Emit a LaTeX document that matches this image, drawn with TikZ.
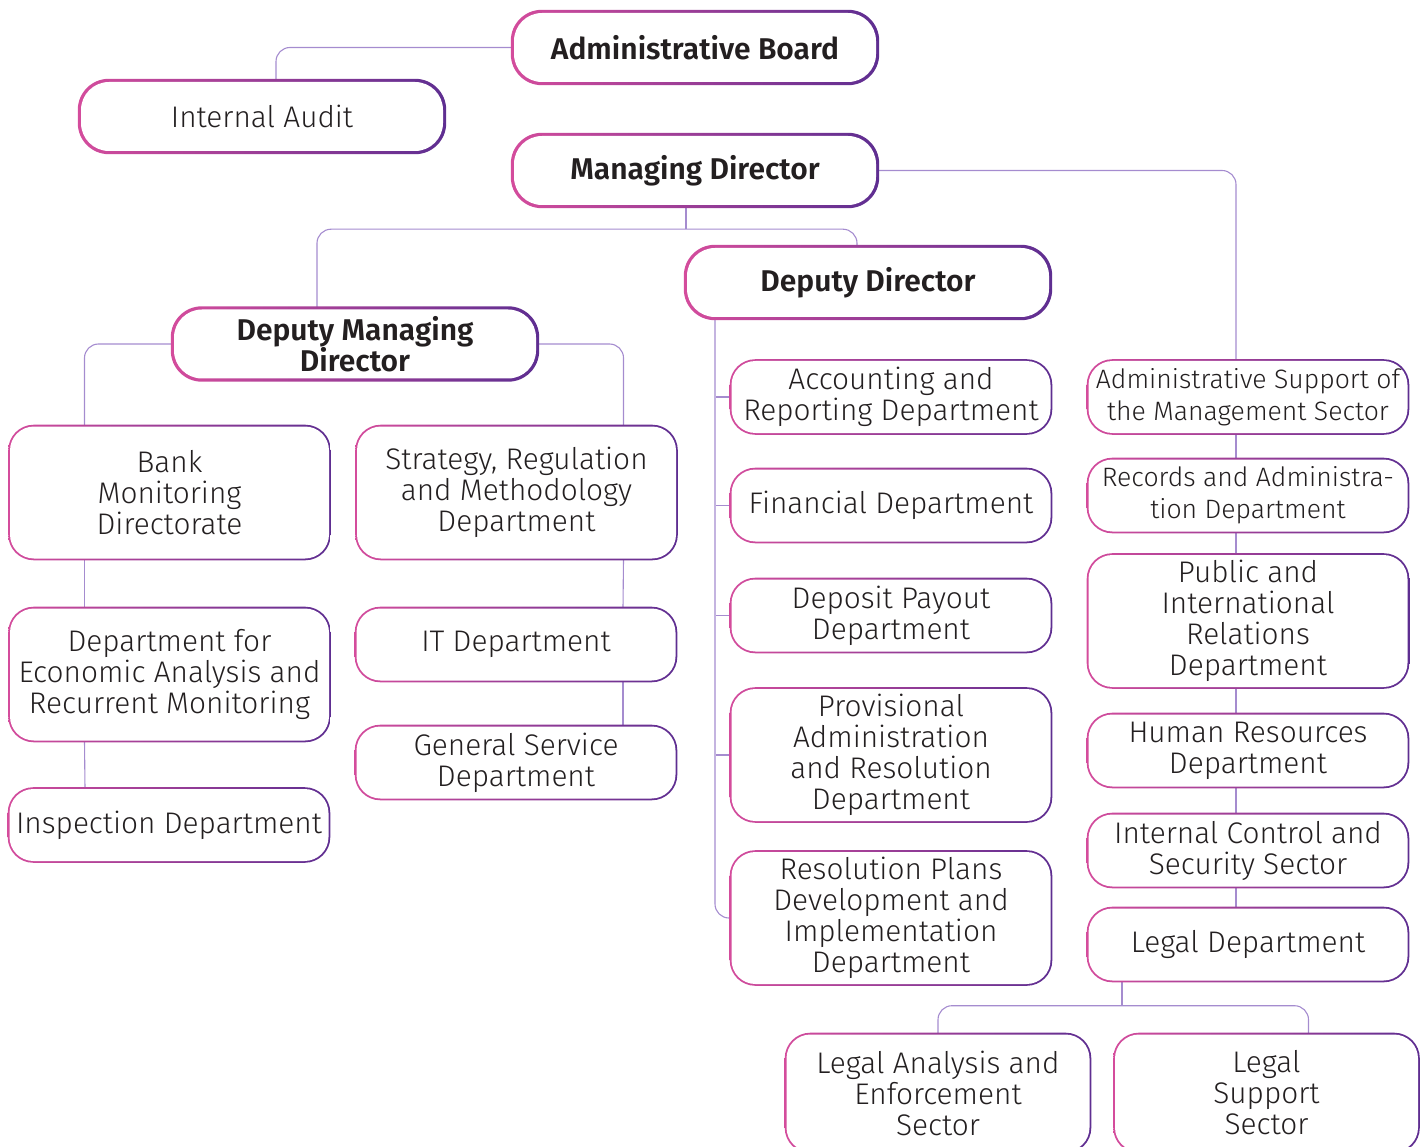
\documentclass[tikz,border=0pt]{standalone}
\usepackage{fontspec}
\setmainfont{Fira Sans}[UprightFont={* Light}, BoldFont={* SemiBold}]
\usetikzlibrary{backgrounds}
\definecolor{rimpink}{HTML}{D44C9C}
\definecolor{rimpurple}{HTML}{5E2E91}
\definecolor{linkc}{HTML}{A58CCF}
\definecolor{inkgray}{HTML}{231F20}
\tikzset{
  unit/.style={fill=white, rounded corners=24pt, align=center, text=inkgray, inner sep=0pt,
    minimum width=319pt, minimum height=72pt, font=\fontsize{29.8}{31}\selectfont},
  tall/.style={unit, minimum height=132pt},
  small/.style={font=\fontsize{26.6}{32}\selectfont},
  head/.style={unit, rounded corners=28pt, minimum width=362pt, minimum height=69pt,
    font=\bfseries\fontsize{30}{31}\selectfont},
  link/.style={draw=linkc, line width=1.1pt, rounded corners=14pt},
  rim/.style={left color=rimpink, right color=rimpurple},
}
\begin{document}
\begin{tikzpicture}[x=1pt, y=-1pt]
        \useasboundingbox (0,0) rectangle (1427,1147);

        % Board, management and deputies
        \node[head] (board) at (695,47.5) {Administrative Board};
        \node[head, font=\fontsize{29.8}{31}\selectfont] (audit) at (262,116.5) {Internal Audit};
        \node[head] (md) at (695,170.5) {Managing Director};
        \node[head] (dd) at (868,282.5) {Deputy Director};
        \node[head] (dmd) at (355,344) {Deputy Managing\\Director};

        % Deputy managing director units
        \node[tall] (bank) at (169.5,492.5) {Bank\\Monitoring\\Directorate};
        \node[tall] (strat) at (516.5,492.5) {Strategy, Regulation\\and Methodology\\Department};
        \node[tall] (econ) at (169.5,674.5) {Department for\\Economic Analysis and\\Recurrent Monitoring};
        \node[unit] (it) at (516,644.5) {IT Department};
        \node[unit] (gen) at (516,762.5) {General Service\\Department};
        \node[unit] (insp) at (169,825) {Inspection Department};

        % Deputy director units
        \node[unit] (acc) at (891,397) {Accounting and\\Reporting Department};
        \node[unit] (fin) at (891,505.5) {Financial Department};
        \node[unit] (dep) at (891,615.5) {Deposit Payout\\Department};
        \node[tall] (prov) at (891,755) {Provisional\\Administration\\and Resolution\\Department};
        \node[tall] (resp) at (891,918) {Resolution Plans\\Development and\\Implementation\\Department};

        % Managing director units
        \node[unit, small] (adms) at (1248,397) {Administrative Support of\\the Management Sector};
        \node[unit, small] (recs) at (1248,495.5) {Records and Administra-\\tion Department};
        \node[tall] (pub) at (1248,621) {Public and\\International\\Relations\\Department};
        \node[unit] (hr) at (1248,750.5) {Human Resources\\Department};
        \node[unit] (ics) at (1248,850.5) {Internal Control and\\Security Sector};
        \node[unit] (legal) at (1248,944.5) {Legal Department};
        \node[unit, minimum width=303pt, minimum height=117pt] (lana) at (938,1093) {Legal Analysis and\\Enforcement\\Sector};
        \node[unit, minimum width=303pt, minimum height=117pt] (lsup) at (1266.5,1093) {Legal\\Support\\Sector};

        \begin{scope}[on background layer]
            % Connectors
            \draw[link] (board.west) -| ([xshift=14pt]audit.north);
            \draw[link] (md.east) -| ([xshift=-12pt]adms.north);
            \draw[link] ([xshift=-9pt]md.south) -- ++(0,-24pt) coordinate (mdj);
            \draw[link] ([xshift=-38pt]dmd.north) |- (mdj) -| ([xshift=-11pt]dd.north);
            \draw[link] (dmd.west) -| ([xshift=-85pt]bank.north);
            \draw[link] (dmd.east) -| ([xshift=107pt]strat.north);
            \draw[link] ([xshift=-85pt]bank.south) -- ([xshift=-85pt]econ.north);
            \draw[link] ([xshift=-85pt]econ.south) -- ([xshift=-84pt]insp.north);
            \draw[link] ([xshift=107pt]strat.south) -- ([xshift=107pt]it.north);
            \draw[link] ([xshift=107pt]it.south) -- ([xshift=107pt]gen.north);
            \draw[link] ([xshift=-153pt]dd.south) |- (resp.west);
            \foreach \n in {acc,fin,dep,prov}
                \draw[link] (\n.west) -- ++(-15pt,0);
            \draw[link] ([xshift=-12pt]adms.south) -- ([xshift=-12pt]recs.north);
            \draw[link] ([xshift=-12pt]recs.south) -- ([xshift=-12pt]pub.north);
            \draw[link] ([xshift=-12pt]pub.south) -- ([xshift=-12pt]hr.north);
            \draw[link] ([xshift=-12pt]hr.south) -- ([xshift=-12pt]ics.north);
            \draw[link] ([xshift=-12pt]ics.south) -- ([xshift=-12pt]legal.north);
            \draw[link] ([xshift=-126pt]legal.south) -- ++(0,-25pt) coordinate (lj);
            \draw[link] (lana.north) |- (lj) -| ([xshift=42pt]lsup.north);

            % Gradient rims
            \foreach \n in {board,audit,md,dd,dmd}
                \shade[rim, rounded corners=31pt] ([shift={(-3pt,3pt)}]\n.north west) rectangle ([shift={(3pt,-3pt)}]\n.south east);
            \foreach \n in {bank,strat,econ,it,gen,insp,acc,fin,dep,prov,resp,adms,recs,pub,hr,ics,legal,lana,lsup}
                \shade[rim, rounded corners=25.6pt] ([shift={(-1.6pt,1.6pt)}]\n.north west) rectangle ([shift={(1.6pt,-1.6pt)}]\n.south east);
        \end{scope}
\end{tikzpicture}
\end{document}
